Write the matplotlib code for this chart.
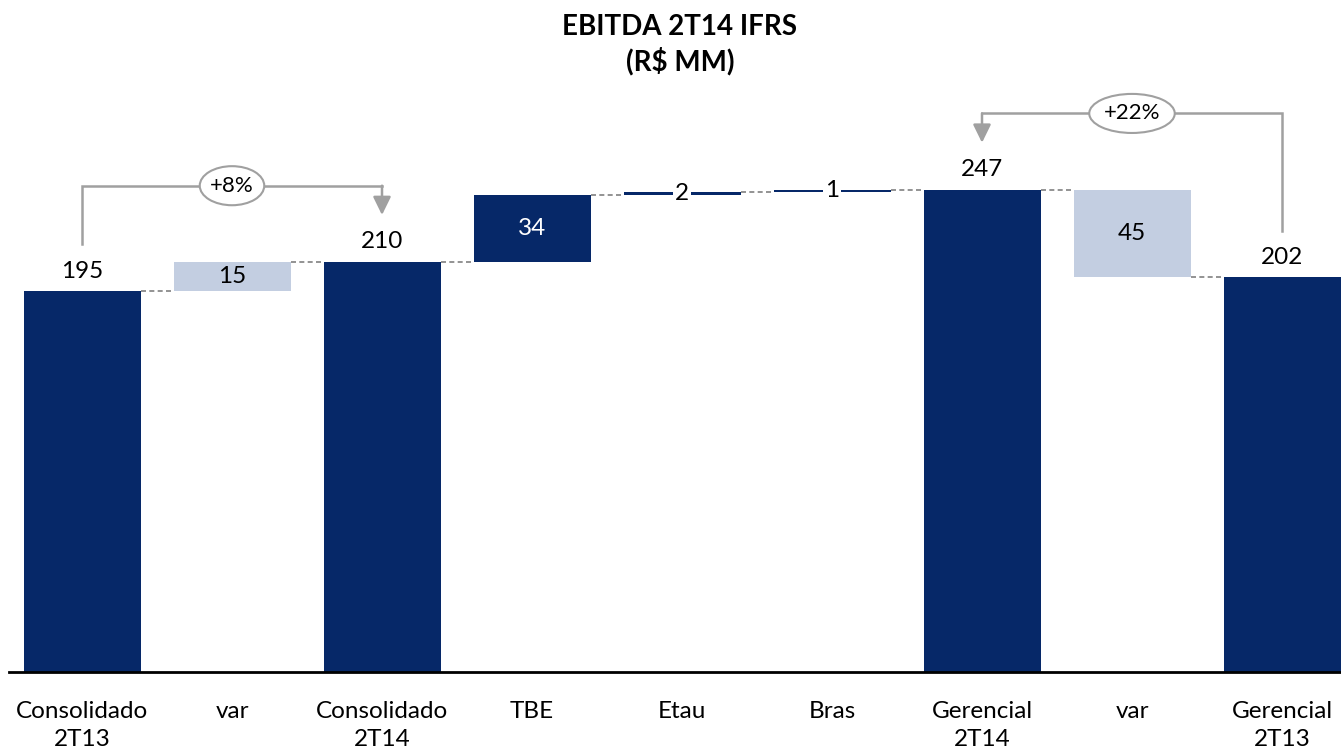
import matplotlib.pyplot as plt
from matplotlib.patches import Ellipse
import numpy as np

plt.rcParams['font.family'] = ['Lato', 'DejaVu Sans']

# ── data ─────────────────────────────────────────────────────────────────────
labels = ["Consolidado\n2T13", "var", "Consolidado\n2T14", "TBE", "Etau",
          "Bras", "Gerencial\n2T14", "var", "Gerencial\n2T13"]
kinds = ["total", "var", "total", "step", "step", "step", "total", "var", "total"]
values = [195, 15, 210, 34, 2, 1, 247, 45, 202]
# brackets: (from bar, to bar, text)
brackets = [(0, 2, "+8%"), (8, 6, "+22%")]

NAVY = "#062868"
LIGHT = "#C3CEE1"
GREY = "#A0A0A0"

# bar bottoms/tops from the waterfall logic
bottoms, tops = [], []
level = 0
for i, (k, v) in enumerate(zip(kinds, values)):
    if k == "total":
        b, t = 0, v
        level = v
    elif k == "step":
        b, t = level, level + v
        level = t
    else:  # var bar spans between neighbouring totals
        lo = min(values[i - 1], values[i + 1])
        b, t = lo, lo + v
    bottoms.append(b)
    tops.append(t)
bottoms = np.array(bottoms)
tops = np.array(tops)
x = np.arange(len(labels))

fig = plt.figure(figsize=(13.41, 7.56), dpi=100)
ax = fig.add_axes([0, 84 / 756, 1, 672 / 756])
ax.set_xlim(-82 / 150, (1341 - 82) / 150)
ax.set_ylim(0, 672 / 1.953)

colors = [LIGHT if k == "var" else NAVY for k in kinds]
w = 0.78
ax.bar(x, tops - bottoms, bottom=bottoms, width=w, color=colors, zorder=2)

# dashed connectors between neighbouring bars
for i in range(len(x) - 1):
    if kinds[i + 1] == "var":
        y = tops[i] if tops[i] in (tops[i + 1], bottoms[i + 1]) else bottoms[i + 1]
    elif kinds[i] == "var":
        y = tops[i + 1] if kinds[i + 1] == "total" else tops[i]
    else:
        y = tops[i]
    ax.plot([x[i] + w / 2, x[i + 1] - w / 2], [y, y], ls=(0, (3, 2)),
            color="#808080", lw=1.2, zorder=1)

# value labels
for i, (k, v) in enumerate(zip(kinds, values)):
    if k == "total":
        ax.annotate(str(v), (x[i], tops[i]), xytext=(0, 14.5), textcoords="offset points",
                    ha="center", va="center", fontsize=17.5, color="black")
    elif k == "var":
        ax.text(x[i], (bottoms[i] + tops[i]) / 2, str(v), ha="center", va="center",
                fontsize=17.5, color="black", zorder=3)
    else:
        big = v > 10
        ax.text(x[i], (bottoms[i] + tops[i]) / 2, str(v), ha="center", va="center",
                fontsize=17.5, color="white" if big else "black", zorder=3,
                bbox=None if big else dict(facecolor="white", edgecolor="none", pad=1))

# brackets with percentage ellipses
for a, b, txt in brackets:
    top = max(values[a], values[b]) + 39
    ax.plot([x[a], x[a], x[b]], [values[a] + 24, top, top], color=GREY, lw=1.8,
            solid_joinstyle="miter", zorder=1)
    ax.annotate("", xy=(x[b], values[b] + 24), xytext=(x[b], top),
                arrowprops=dict(arrowstyle="-|>,head_length=0.55,head_width=0.27",
                                mutation_scale=20, color=GREY, lw=1.8,
                                shrinkA=0, shrinkB=0))
    xm = (x[a] + x[b]) / 2
    ew = 0.43 if len(txt) < 4 else 0.57
    ax.add_patch(Ellipse((xm, top), ew, 20, facecolor="white", edgecolor=GREY,
                         lw=1.5, zorder=3))
    ax.text(xm, top, txt, ha="center", va="center", fontsize=16, zorder=4)

ax.set_xticks(x)
ax.set_xticklabels(labels, fontsize=17.5, linespacing=1.4)
ax.tick_params(axis="x", length=0, pad=21)
ax.set_yticks([])
for s in ["top", "left", "right"]:
    ax.spines[s].set_visible(False)
ax.spines["bottom"].set_linewidth(2)
ax.spines["bottom"].set_bounds(-0.49, 8.39)

fig.text(0.507, 1 - 45 / 756, "EBITDA 2T14 IFRS\n(R$ MM)", ha="center", va="center",
         fontsize=20, fontweight="bold", linespacing=1.3)

fig.savefig("out.png", dpi=100)
